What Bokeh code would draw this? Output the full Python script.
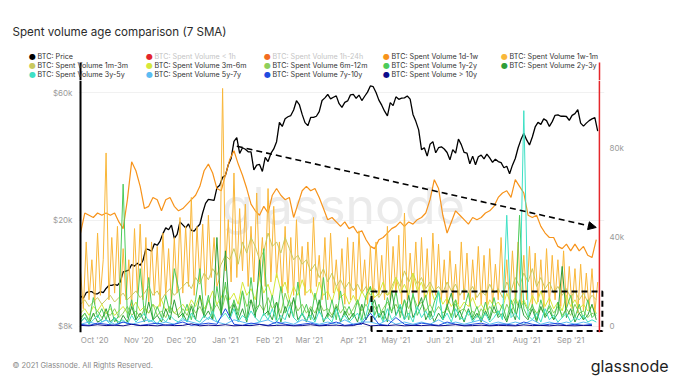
import datetime as dt
import pandas as pd
from bokeh.plotting import figure
from bokeh.layouts import column
from bokeh.models import (Range1d, LinearAxis, FixedTicker, DatetimeTickFormatter, LinearScale,
                          Span, Arrow, NormalHead, Label)
from bokeh.core.properties import value
from bokeh.embed import file_html
from bokeh.resources import INLINE

# ---------------- data ----------------
# BTC price (k USD), every 2 days from 2020-09-21
price_k = [10.4, 10.2, 10.7, 10.8, 10.8,
           10.6, 10.6, 10.8, 10.7, 11.1, 11.4, 11.4, 11.5, 11.4, 11.75, 12.8, 12.9, 13.0, 13.65, 13.45, 13.8,
           13.55, 14.15, 15.6, 15.5, 15.3, 16.3, 16.1, 16.7, 17.8, 18.7, 18.4, 19.15, 17.1, 17.7, 19.7,
           19.2, 18.7, 19.35, 18.3, 18.2, 18.8, 19.3, 21.3, 23.1, 23.9, 23.8, 23.7, 26.4, 27.0, 28.9,
           29.4, 32.2, 34.0, 39.4, 40.7, 35.5, 37.3, 36.8, 36.0, 36.0, 30.8, 32.1, 32.3, 30.4, 34.3, 33.1,
           35.5, 36.9, 39.3, 46.4, 44.8, 47.9, 48.7, 49.2, 51.6, 55.9, 54.1, 49.7, 46.3, 45.1,
           48.4, 48.4, 48.9, 50.9, 56.0, 57.3, 59.0, 56.8, 57.6, 58.3, 54.5, 52.8, 55.1, 55.8, 58.8,
           59.0, 57.1, 58.7, 56.0, 58.1, 60.2, 63.5, 63.1, 60.0, 56.2, 53.8, 51.1, 49.1, 55.0, 53.6,
           57.8, 56.6, 57.2, 57.3, 58.2, 56.7, 49.7, 46.8, 43.5, 36.7, 37.3, 34.7, 38.4, 39.3, 35.7, 37.3,
           37.6, 36.9, 35.8, 33.6, 36.7, 35.6, 40.2, 38.3, 35.8, 35.6, 32.5, 34.7, 32.2, 34.5, 35.0,
           33.9, 35.3, 34.2, 32.9, 33.8, 33.1, 32.8, 31.4, 31.8, 29.8, 32.1, 34.0, 37.3, 40.0, 42.2,
           39.9, 38.2, 40.9, 44.6, 46.4, 45.6, 47.8, 47.1, 44.8, 46.7, 49.3, 49.5, 48.9, 49.0, 48.8, 47.2,
           49.3, 50.0, 51.8, 46.1, 44.9, 46.1, 47.1, 47.8, 48.3, 43.0]

# Spent volume 1w-1m (k BTC), every 2 days from 2020-09-21
vol_1w_1m = [25, 8, 38, 12, 30,
             10, 42, 14, 30, 78, 12, 40, 15, 45, 10, 35, 12, 30, 9, 44, 15,
             46, 12, 40, 10, 38, 14, 36, 9, 42, 14, 35, 10, 40, 15, 49,
             15, 45, 18, 58, 14, 45, 20, 46, 14, 50, 22, 40, 18, 22, 107,
             25, 48, 20, 69, 22, 53, 25, 55, 18, 45, 20, 60, 22, 40, 18, 62,
             20, 54, 22, 38, 15, 45, 15, 40, 14, 48, 16, 36, 14, 38,
             15, 49, 18, 32, 12, 40, 12, 42, 15, 30, 12, 35, 10, 40, 12,
             38, 12, 43, 15, 30, 10, 36, 12, 38, 14, 32, 12, 45, 12, 36,
             14, 41, 10, 51, 12, 33, 15, 38, 10, 40, 12, 35, 10, 42, 14, 37,
             12, 30, 8, 34, 12, 28, 10, 38, 12, 33, 9, 30, 12, 36, 10,
             32, 8, 35, 10, 28, 12, 40, 12, 30, 9, 34, 12, 38, 10, 32,
             12, 36, 9, 33, 11, 30, 8, 35, 10, 32, 12, 30, 9, 34, 8, 27,
             8, 26, 6, 28, 7, 24, 8, 26, 6, 20]

# The remaining volumes (k BTC), every 3 days from 2020-09-21
vol_1d_1w = [42, 51, 50, 49, 51, 50, 51, 50, 51, 47,
             44, 57, 74, 70, 63, 53, 54, 58, 57, 52, 57, 58, 54, 52,
             53, 55, 57, 59, 63, 70, 73, 69, 62, 61,
             68, 75, 79, 73, 68, 62, 55, 52, 50, 54,
             51, 59, 62, 59, 57, 58, 49, 55, 61, 63,
             61, 62, 58, 53, 48, 49, 47, 45, 47, 44,
             45, 42, 43, 39, 36, 35, 39, 40, 42, 44,
             45, 47, 45, 47, 46, 48, 49, 51, 57, 66,
             62, 50, 42, 47, 52, 50, 48, 46, 49, 48,
             49, 51, 52, 54, 58, 60, 61, 58, 66, 63,
             60, 50, 49, 50, 45, 42, 40, 40, 36, 35,
             37, 34, 37, 34, 36, 32, 31, 39]
vol_1m_3m = [10, 12, 9, 11, 13, 10, 12, 14, 11, 13,
             15, 12, 14, 16, 13, 15, 18, 14, 16, 12, 15, 17, 14, 16,
             18, 20, 17, 22, 19, 24, 21, 26, 23, 28,
             32, 30, 35, 28, 38, 33, 40, 36, 30, 34,
             42, 36, 38, 33, 40, 35, 30, 32, 28, 30,
             25, 28, 22, 26, 20, 24, 18, 21, 17, 20,
             16, 19, 15, 18, 14, 17, 13, 16, 14, 18,
             22, 18, 25, 20, 24, 19, 22, 17, 20, 16,
             18, 15, 20, 16, 19, 14, 17, 15, 18, 13,
             16, 14, 19, 15, 17, 13, 20, 16, 22, 18,
             24, 20, 26, 18, 22, 17, 20, 15, 18, 14,
             17, 13, 16, 12, 15, 11, 14, 12]
vol_3m_6m = [6, 8, 5, 9, 7, 10, 6, 8, 5, 7,
             9, 6, 8, 11, 7, 9, 6, 10, 8, 12, 7, 9, 6, 8,
             10, 7, 12, 9, 14, 8, 11, 16, 10, 13,
             18, 12, 15, 10, 20, 14, 17, 12, 22, 15,
             19, 13, 24, 16, 20, 12, 18, 14, 21, 15,
             17, 12, 20, 14, 16, 11, 18, 13, 15, 10,
             14, 10, 16, 12, 18, 13, 15, 20, 14, 16,
             22, 15, 19, 14, 24, 16, 20, 13, 18, 12,
             15, 10, 13, 9, 12, 8, 11, 9, 13, 8,
             10, 7, 12, 9, 11, 8, 15, 10, 13, 9,
             12, 8, 14, 10, 16, 9, 13, 8, 11, 7,
             14, 9, 12, 8, 10, 7, 9, 6]
vol_6m_12m = [4, 6, 3, 5, 7, 4, 6, 5, 8, 4,
              6, 9, 5, 7, 4, 8, 6, 10, 5, 7, 4, 9, 6, 5,
              8, 5, 10, 6, 9, 5, 12, 7, 10, 6,
              14, 8, 11, 7, 16, 9, 12, 8, 10, 7,
              13, 8, 11, 6, 15, 9, 12, 7, 10, 6,
              9, 6, 11, 7, 8, 5, 10, 6, 9, 5,
              8, 12, 7, 10, 6, 9, 5, 8, 11, 7,
              10, 6, 12, 8, 14, 9, 11, 7, 10, 6,
              9, 6, 8, 5, 10, 7, 8, 5, 7, 4,
              8, 5, 9, 6, 7, 4, 10, 6, 12, 8,
              11, 7, 9, 6, 8, 5, 10, 6, 9, 5,
              8, 5, 10, 6, 7, 4, 6, 5]
vol_1y_2y = [3, 6, 2, 13, 4, 8, 3, 10, 2, 5,
             64, 4, 12, 3, 26, 5, 22, 3, 9, 4, 14, 6, 26, 17,
             4, 10, 3, 12, 26, 5, 14, 3, 18, 6,
             20, 4, 12, 5, 16, 3, 22, 6, 10, 35,
             5, 14, 3, 18, 6, 12, 4, 20, 5, 10,
             3, 15, 6, 22, 4, 12, 3, 16, 5, 9,
             4, 12, 3, 14, 18, 5, 10, 3, 13, 6,
             16, 4, 12, 3, 15, 5, 9, 14, 4, 11,
             16, 3, 10, 4, 12, 3, 8, 15, 4, 9,
             3, 11, 4, 13, 5, 10, 3, 12, 6, 50,
             8, 4, 10, 3, 12, 5, 9, 3, 11, 4,
             8, 14, 4, 10, 3, 12, 4, 6]
vol_2y_3y = [2, 4, 1, 6, 2, 3, 8, 2, 4, 1,
             5, 2, 9, 3, 6, 2, 11, 3, 5, 2, 8, 3, 12, 4,
             6, 2, 9, 3, 14, 4, 7, 3, 40, 5,
             34, 4, 10, 3, 8, 2, 12, 4, 30, 5,
             7, 3, 11, 2, 9, 4, 13, 3, 6, 2,
             8, 3, 12, 2, 6, 4, 9, 2, 7, 3,
             6, 2, 10, 3, 8, 12, 4, 7, 2, 16,
             5, 9, 3, 14, 4, 8, 13, 3, 7, 2,
             6, 3, 9, 15, 4, 7, 2, 8, 3, 6,
             2, 7, 3, 9, 4, 6, 2, 8, 3, 12,
             5, 3, 8, 2, 9, 4, 7, 3, 6, 27,
             4, 8, 2, 6, 3, 5, 10, 3]
vol_3y_5y = [2, 4, 1, 3, 5, 2, 3, 1, 4, 2,
             3, 1, 5, 2, 4, 6, 2, 3, 1, 4, 2, 5, 3, 2,
             4, 2, 6, 3, 2, 5, 3, 7, 2, 4,
             6, 3, 8, 2, 5, 3, 7, 4, 2, 6,
             3, 8, 2, 5, 3, 9, 4, 2, 6, 3,
             5, 2, 7, 3, 4, 2, 8, 3, 5, 2,
             4, 6, 2, 5, 13, 3, 6, 2, 8, 3,
             5, 10, 3, 6, 2, 9, 4, 7, 3, 5,
             16, 3, 6, 2, 8, 4, 3, 7, 2, 5,
             3, 6, 2, 4, 7, 3, 50, 4, 6, 3,
             97, 5, 3, 6, 2, 8, 3, 5, 2, 4,
             6, 2, 4, 3, 5, 2, 3, 2]
# every 6 days from 2020-09-21
vol_5y_7y = [1, 2, 1, 3, 1, 2, 1, 2, 3, 1, 2, 1, 3, 2, 1, 4, 2, 1, 3, 2,
             1, 2, 3, 1, 2, 1, 3, 2, 1, 2, 1, 3, 1, 2, 2, 1, 3, 1, 2, 1,
             2, 1, 3, 1, 2, 1, 2, 3, 1, 2, 1, 2, 1, 3, 1, 2, 1, 2, 1, 2, 1]
vol_7y_10y = [1, 0.5, 1.5, 1, 0.5, 2, 1, 0.5, 1, 1.5, 0.5, 1, 2, 0.5, 1, 1.5, 1, 8, 1, 0.5,
              1.5, 1, 0.5, 2, 1, 0.5, 1, 1.5, 0.5, 1, 2, 0.5, 1, 1, 6, 1, 0.5, 4, 1, 0.5,
              1.5, 1, 0.5, 2, 1, 0.5, 1, 1.5, 0.5, 1, 1, 0.5, 2, 1, 0.5, 1, 1.5, 0.5, 1, 0.5, 1]
vol_10y = [0.5, 0.3, 0.8, 0.4, 0.6, 0.3, 1, 0.4, 0.5, 0.3, 0.7, 0.4, 0.5, 1.2, 0.3, 0.6, 0.4, 0.8, 0.3, 0.5,
           0.4, 0.9, 0.3, 0.5, 0.6, 0.3, 0.4, 0.8, 0.3, 0.5, 0.6, 0.3, 0.4, 1.5, 0.3, 0.5, 0.4, 0.7, 0.3, 0.5,
           0.4, 0.6, 0.3, 0.5, 0.8, 0.3, 0.4, 0.6, 0.3, 0.5, 0.4, 0.3, 0.7, 0.4, 0.5, 0.3, 0.6, 0.4, 0.3, 0.5, 0.4]

month_ticks = ["2020-10-01", "2020-11-01", "2020-12-01", "2021-01-01", "2021-02-01", "2021-03-01",
               "2021-04-01", "2021-05-01", "2021-06-01", "2021-07-01", "2021-08-01", "2021-09-01"]
price_ticks = [8, 20, 60]
price_labels = ["$8k", "$20k", "$60k"]
vol_ticks = [0, 40, 80]
vol_labels = ["0", "40k", "80k"]

legend_items = [
    ("BTC: Price", "#000000", True),
    ("BTC: Spent Volume < 1h", "#e3242b", False),
    ("BTC: Spent Volume 1h-24h", "#f26b21", False),
    ("BTC: Spent Volume 1d-1w", "#f7931a", True),
    ("BTC: Spent Volume 1w-1m", "#f9b73a", True),
    ("BTC: Spent Volume 1m-3m", "#c9c95e", True),
    ("BTC: Spent Volume 3m-6m", "#d6e83a", True),
    ("BTC: Spent Volume 6m-12m", "#8fcf5b", True),
    ("BTC: Spent Volume 1y-2y", "#4ccb5a", True),
    ("BTC: Spent Volume 2y-3y", "#2e9d3a", True),
    ("BTC: Spent Volume 3y-5y", "#3fe0c5", True),
    ("BTC: Spent Volume 5y-7y", "#5bbcf2", True),
    ("BTC: Spent Volume 7y-10y", "#1f4be0", True),
    ("BTC: Spent Volume > 10y", "#0c0c8c", True),
]

W = 672
HEAD_H, MAIN_H, FOOT_H = 80, 270, 28


def dates(start, n, step):
    return pd.date_range(start, periods=n, freq=step)


def ms(d):
    return pd.Timestamp(d).value / 1e6


def blank(height):
    f = figure(width=W, height=height, x_range=Range1d(0, W), y_range=Range1d(height, 0),
               output_backend="svg", toolbar_location=None, frame_align=False,
               min_border_left=0, min_border_right=0, min_border_top=0, min_border_bottom=0)
    f.axis.visible = False
    f.grid.visible = False
    f.outline_line_color = None
    f.background_fill_color = "white"
    f.border_fill_color = "white"
    return f


# ---------------- header: title + legend ----------------
head = blank(HEAD_H)
head.add_layout(Label(x=12, y=31, text="Spent volume age comparison (7 SMA)", text_font="Inter",
                      text_font_size="11.6px", text_color="#2b2b2b", text_baseline="middle"))
col_x = [32, 149, 267, 386, 504]
row_y = [56, 65, 74]
for k, (name, c, active) in enumerate(legend_items):
    r, cidx = divmod(k, 5)
    head.add_layout(Label(x=col_x[cidx], y=row_y[r], text="●", text_font="DejaVu Sans",
                          text_font_size="8px", text_color=c, text_align="center", text_baseline="middle"))
    head.add_layout(Label(x=col_x[cidx] + 5, y=row_y[r], text=name, text_font="Inter",
                          text_font_size="7.2px", text_color="#333333" if active else "#c4c4c4",
                          text_baseline="middle"))
# top parts of the author's vertical marker lines
head.segment(x0=[80], y0=[62], x1=[80], y1=[HEAD_H], line_color="black", line_width=2)
head.segment(x0=[599], y0=[62], x1=[599], y1=[HEAD_H], line_color="#e5262b", line_width=1.5)

# ---------------- main chart ----------------
p = figure(width=W, height=MAIN_H, x_axis_type="datetime", y_axis_type="log",
           x_range=Range1d(dt.datetime(2020, 9, 19, 14), dt.datetime(2021, 9, 24, 19)),
           y_range=Range1d(7.597, 66.54),
           output_backend="svg", toolbar_location=None, frame_align=False,
           min_border_left=78, min_border_right=W - 604, min_border_top=0, min_border_bottom=18)
p.extra_y_ranges = {"vol": Range1d(-2.7, 110.56)}
p.extra_y_scales = {"vol": LinearScale()}
p.outline_line_color = None
p.background_fill_color = "white"
p.border_fill_color = "white"
p.xgrid.grid_line_color = None
p.ygrid.grid_line_color = "#f1f1f1"
p.ygrid.ticker = FixedTicker(ticks=price_ticks)


def style_axis(ax, standoff):
    ax.axis_line_color = None
    ax.major_tick_line_color = None
    ax.minor_tick_line_color = None
    ax.major_tick_out = 0
    ax.major_tick_in = 0
    ax.major_label_text_font_size = "8px"
    ax.major_label_text_color = "#9a9a9a"
    ax.major_label_text_font = "Inter"
    ax.major_label_standoff = standoff


xa = p.xaxis[0]
xa.ticker = FixedTicker(ticks=[ms(t) for t in month_ticks])
xa.formatter = DatetimeTickFormatter(days="%b '%y", months="%b '%y", years="%b '%y")
style_axis(xa, 2)

ya = p.yaxis[0]
ya.ticker = FixedTicker(ticks=price_ticks)
ya.major_label_overrides = dict(zip(price_ticks, price_labels))
style_axis(ya, 6)

ra = LinearAxis(y_range_name="vol", ticker=FixedTicker(ticks=vol_ticks))
ra.major_label_overrides = dict(zip(vol_ticks, vol_labels))
style_axis(ra, 5)
p.add_layout(ra, "right")

# watermark
p.text(x=[dt.datetime(2021, 3, 25)], y=[54], text=["glassnode"], y_range_name="vol",
       text_font=value("Inter"), text_font_size="50px", text_color="#ebebeb",
       text_align="center", text_baseline="middle")

colors = {name: c for name, c, _ in legend_items}
p.line(dates("2020-09-21", len(price_k), "2D"), price_k, line_color="#000000", line_width=1.3)
series = [
    ("BTC: Spent Volume 1d-1w", vol_1d_1w, "3D", 1.2),
    ("BTC: Spent Volume 1w-1m", vol_1w_1m, "2D", 1.0),
    ("BTC: Spent Volume 1m-3m", vol_1m_3m, "3D", 1.0),
    ("BTC: Spent Volume 3m-6m", vol_3m_6m, "3D", 1.0),
    ("BTC: Spent Volume 6m-12m", vol_6m_12m, "3D", 1.0),
    ("BTC: Spent Volume 1y-2y", vol_1y_2y, "3D", 1.0),
    ("BTC: Spent Volume 2y-3y", vol_2y_3y, "3D", 1.0),
    ("BTC: Spent Volume 3y-5y", vol_3y_5y, "3D", 1.0),
    ("BTC: Spent Volume 5y-7y", vol_5y_7y, "6D", 1.0),
    ("BTC: Spent Volume 7y-10y", vol_7y_10y, "6D", 1.0),
    ("BTC: Spent Volume > 10y", vol_10y, "6D", 1.0),
]
for name, vals, step, lw in series:
    p.line(dates("2020-09-21", len(vals), step), vals, y_range_name="vol",
           line_color=colors[name], line_width=lw)

# author annotations
p.add_layout(Arrow(end=NormalHead(size=8, fill_color="black", line_color="black"),
                   x_start=ms("2021-01-09"), y_start=81, x_end=ms("2021-09-19"), y_end=44.5,
                   y_range_name="vol", line_color="black", line_width=1.6, line_dash="6 4"))
p.quad(left=[dt.datetime(2021, 4, 13, 19)], right=[dt.datetime(2021, 9, 23, 7)],
       top=[15.7], bottom=[-2.0], y_range_name="vol", fill_color=None,
       line_color="black", line_width=2, line_dash="6 4")
p.add_layout(Span(location=ms("2020-09-21"), dimension="height", line_color="black", line_width=2))
p.add_layout(Span(location=ms("2021-09-21 05:00"), dimension="height", line_color="#e5262b", line_width=1.5))

# ---------------- footer ----------------
foot = blank(FOOT_H)
foot.add_layout(Label(x=12, y=15, text="© 2021 Glassnode. All Rights Reserved.", text_font="Inter",
                      text_font_size="7.5px", text_color="#8a8a8a", text_baseline="middle"))
foot.add_layout(Label(x=668, y=15, text="glassnode", text_font="Inter", text_font_size="16px",
                      text_color="#1e1e1e", text_align="right", text_baseline="middle"))

layout = column(head, p, foot, spacing=0)
open("out.html", "w").write(file_html(layout, INLINE))
